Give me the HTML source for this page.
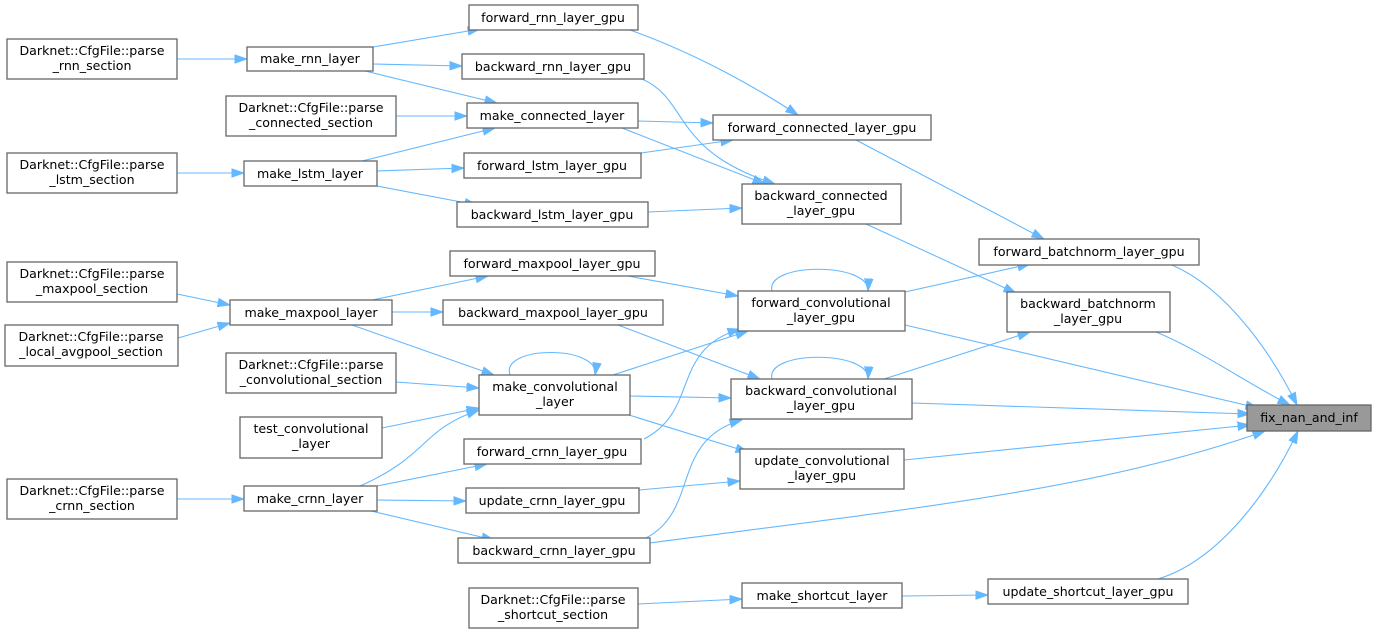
<!DOCTYPE html>
<html><head><meta charset="utf-8"><style>
html,body{margin:0;padding:0;background:#fff;}
svg{display:block;}
text{font-family:"DejaVu Sans","Liberation Sans",sans-serif;font-size:12.6px;fill:#000;text-anchor:middle;}
rect{fill:#fff;stroke:#666;stroke-width:1.3;}
path{fill:none;stroke:#63b8ff;stroke-width:1.1;}
</style></head><body>
<svg width="1376" height="634" viewBox="0 0 1376 634" xmlns="http://www.w3.org/2000/svg">
<defs><marker id="a" markerWidth="13" markerHeight="10" refX="12.5" refY="5" orient="auto" markerUnits="userSpaceOnUse"><path d="M0,0.5 L13,5 L0,9.5 Z" style="fill:#63b8ff;stroke:#63b8ff;stroke-width:0.5"/></marker></defs>
<g marker-end="url(#a)">
<path d="M177,59 L247,59"/>
<path d="M373,47 L480,29"/>
<path d="M373,64 L462,66"/>
<path d="M365,71 L497,103"/>
<path d="M396,116 L467,116"/>
<path d="M177,173 L244,173"/>
<path d="M362,161 L495,128"/>
<path d="M377,171 L464,168"/>
<path d="M377,186 L477,205"/>
<path d="M630,30 C700,55 760,90 798,115"/>
<path d="M642,79 C690,100 670,150 775,184"/>
<path d="M638,121 L713,123"/>
<path d="M622,128 L765,184"/>
<path d="M641,153 L733,140"/>
<path d="M648,212 L742,208"/>
<path d="M856,140 L1044,239"/>
<path d="M866,224 L1016,293"/>
<path d="M1172,265 C1230,290 1275,360 1297,405"/>
<path d="M1156,332 C1200,350 1250,385 1290,405"/>
<path d="M177,294 L230,305"/>
<path d="M178,338 L230,323"/>
<path d="M372,300 L488,276"/>
<path d="M392,312 L443,312"/>
<path d="M352,325 L494,375"/>
<path d="M628,276 L738,296"/>
<path d="M618,325 L760,379"/>
<path d="M510,375 C500,345 600,345 595,375"/>
<path d="M396,382 L479,388"/>
<path d="M382,428 L479,408"/>
<path d="M360,486 C430,455 420,430 479,410"/>
<path d="M613,375 L748,331"/>
<path d="M630,396 L731,398"/>
<path d="M629,415 L748,452"/>
<path d="M177,499 L244,499"/>
<path d="M377,486 L487,464"/>
<path d="M377,500 L466,501"/>
<path d="M371,511 L494,540"/>
<path d="M644,439 C700,410 670,350 740,329"/>
<path d="M646,538 C700,510 670,440 742,420"/>
<path d="M639,490 L740,481"/>
<path d="M772,291 C765,262 870,262 868,291"/>
<path d="M772,379 C765,350 870,350 868,379"/>
<path d="M905,292 L1030,264"/>
<path d="M884,379 L1030,332"/>
<path d="M905,325 L1258,408"/>
<path d="M912,403 L1250,414"/>
<path d="M904,460 L1250,425"/>
<path d="M650,543 C900,510 1100,490 1265,431"/>
<path d="M638,604 L742,599"/>
<path d="M902,596 L988,595"/>
<path d="M1158,579 C1220,560 1270,490 1298,431"/>
</g>
<g>
<rect x="7" y="39" width="170" height="40"/><text x="92" y="55">Darknet::CfgFile::parse</text><text x="92" y="70">_rnn_section</text>
<rect x="7" y="153" width="170" height="40"/><text x="92" y="169">Darknet::CfgFile::parse</text><text x="92" y="184">_lstm_section</text>
<rect x="7" y="262" width="170" height="40"/><text x="92" y="278">Darknet::CfgFile::parse</text><text x="92" y="293">_maxpool_section</text>
<rect x="5" y="325" width="173" height="41"/><text x="91" y="341">Darknet::CfgFile::parse</text><text x="91" y="356">_local_avgpool_section</text>
<rect x="7" y="479" width="170" height="40"/><text x="92" y="495">Darknet::CfgFile::parse</text><text x="92" y="510">_crnn_section</text>
<rect x="247" y="47" width="126" height="24"/><text x="310" y="63">make_rnn_layer</text>
<rect x="226" y="96" width="170" height="40"/><text x="311" y="112">Darknet::CfgFile::parse</text><text x="311" y="127">_connected_section</text>
<rect x="244" y="161" width="133" height="25"/><text x="310" y="178">make_lstm_layer</text>
<rect x="230" y="300" width="162" height="25"/><text x="311" y="317">make_maxpool_layer</text>
<rect x="226" y="353" width="170" height="40"/><text x="311" y="369">Darknet::CfgFile::parse</text><text x="311" y="384">_convolutional_section</text>
<rect x="240" y="417" width="142" height="41"/><text x="311" y="433">test_convolutional</text><text x="311" y="448">_layer</text>
<rect x="244" y="486" width="133" height="25"/><text x="310" y="503">make_crnn_layer</text>
<rect x="479" y="375" width="151" height="40"/><text x="555" y="391">make_convolutional</text><text x="555" y="406">_layer</text>
<rect x="469" y="5" width="169" height="25"/><text x="553" y="22">forward_rnn_layer_gpu</text>
<rect x="462" y="54" width="182" height="25"/><text x="553" y="71">backward_rnn_layer_gpu</text>
<rect x="467" y="103" width="171" height="25"/><text x="552" y="120">make_connected_layer</text>
<rect x="464" y="153" width="177" height="25"/><text x="552" y="170">forward_lstm_layer_gpu</text>
<rect x="457" y="202" width="191" height="25"/><text x="552" y="219">backward_lstm_layer_gpu</text>
<rect x="450" y="251" width="205" height="25"/><text x="552" y="268">forward_maxpool_layer_gpu</text>
<rect x="443" y="300" width="220" height="25"/><text x="553" y="317">backward_maxpool_layer_gpu</text>
<rect x="464" y="439" width="177" height="25"/><text x="552" y="456">forward_crnn_layer_gpu</text>
<rect x="466" y="488" width="173" height="25"/><text x="552" y="505">update_crnn_layer_gpu</text>
<rect x="458" y="538" width="192" height="25"/><text x="554" y="555">backward_crnn_layer_gpu</text>
<rect x="469" y="588" width="169" height="40"/><text x="553" y="604">Darknet::CfgFile::parse</text><text x="553" y="619">_shortcut_section</text>
<rect x="713" y="115" width="218" height="25"/><text x="822" y="132">forward_connected_layer_gpu</text>
<rect x="742" y="184" width="159" height="40"/><text x="821" y="200">backward_connected</text><text x="821" y="215">_layer_gpu</text>
<rect x="979" y="239" width="220" height="26"/><text x="1089" y="256">forward_batchnorm_layer_gpu</text>
<rect x="738" y="291" width="167" height="40"/><text x="821" y="307">forward_convolutional</text><text x="821" y="322">_layer_gpu</text>
<rect x="1007" y="292" width="163" height="40"/><text x="1088" y="308">backward_batchnorm</text><text x="1088" y="323">_layer_gpu</text>
<rect x="731" y="379" width="181" height="40"/><text x="821" y="395">backward_convolutional</text><text x="821" y="410">_layer_gpu</text>
<rect x="740" y="449" width="164" height="40"/><text x="822" y="465">update_convolutional</text><text x="822" y="480">_layer_gpu</text>
<rect x="742" y="583" width="160" height="25"/><text x="822" y="600">make_shortcut_layer</text>
<rect x="988" y="579" width="200" height="25"/><text x="1088" y="596">update_shortcut_layer_gpu</text>
<rect x="1247" y="405" width="124" height="26" style="fill:#999;stroke:#666"/><text x="1309" y="422">fix_nan_and_inf</text>
</g>
</svg>
</body></html>
